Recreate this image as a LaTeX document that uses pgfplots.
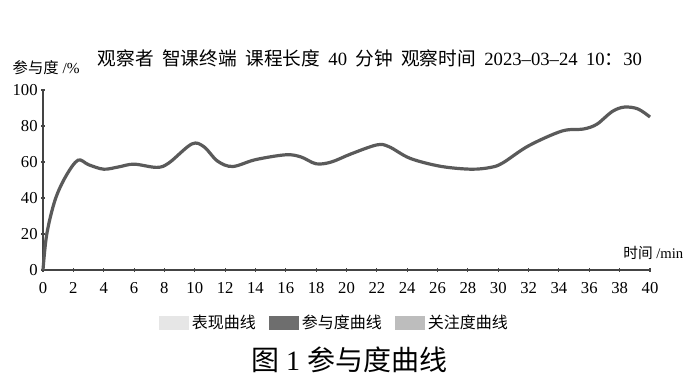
\documentclass[border=0pt]{standalone}
\usepackage{pgfplots}
\pgfplotsset{compat=1.18}
\usepackage{fontspec}
\setmainfont{Liberation Serif}
\newfontfamily\cjk{Noto Sans CJK SC}
\definecolor{curve}{HTML}{5A5A5A}
\definecolor{axisc}{HTML}{444444}
\definecolor{lg1}{HTML}{E6E6E6}
\definecolor{lg2}{HTML}{6E6E6E}
\definecolor{lg3}{HTML}{BDBDBD}
\newcommand{\tsp}{\hspace{0.45em}}
\begin{document}
\begin{tikzpicture}[x=0.75pt,y=0.75pt]
\path[use as bounding box] (0,0) rectangle (700,385);
\begin{axis}[
  at={(32.25pt,86.25pt)}, anchor=origin,
  scale only axis, width=455.25pt, height=135pt,
  xmin=0, xmax=40, ymin=0, ymax=100,
  axis x line=bottom, axis y line=left,
  axis line style={axisc, line width=1.4pt, -},
  xtick={0,2,...,40}, ytick={0,20,...,100},
  tick style={axisc, line width=0.8pt},
  major tick length=3pt,
  tick align=center,
  /pgf/number format/assume math mode=true,
  ticklabel style={font=\fontsize{12.5}{13}\selectfont, text=black},
  xticklabel style={yshift=-4pt},
  yticklabel style={xshift=1pt},
  clip=false,
  legend style={at={(rel axis cs:0.481,-0.294)}, anchor=center, draw=none, fill=none,
    legend columns=3, font=\fontsize{12}{13}\selectfont\cjk,
    /tikz/every even column/.append style={column sep=8pt}},
  legend cell align=left,
  legend image code/.code={\fill[#1] (0cm,-0.175cm) rectangle (0.79cm,0.175cm);},
]
\addplot[curve, line width=2.4pt, smooth, tension=0.55, forget plot] coordinates {
(0,0) (0.25,20) (0.8,39) (1.5,52) (2.3,61) (3,58.5) (4,56) (5,57.3) (6,58.8) (7.5,57)
(8.3,59.5) (9.8,70) (10.6,68.5) (11.5,60.5) (12.5,57.5) (14,61.3) (16,64) (17,62.8)
(18,59) (19,60) (20.3,64.5) (22,69.5) (22.8,68.5) (24.2,62) (26.2,57.6) (28.2,56)
(29.5,57) (30.3,59.5) (32,69) (34.2,77.2) (35.6,78.3) (36.5,81) (37.5,88) (38.3,90.5)
(39.2,89.5) (40,85)
};
\addlegendimage{draw=none, fill=lg1}
\addlegendentry{表现曲线}
\addlegendimage{draw=none, fill=lg2}
\addlegendentry{参与度曲线}
\addlegendimage{draw=none, fill=lg3}
\addlegendentry{关注度曲线}
\end{axis}
\node[anchor=west, font=\fontsize{11.5}{12}\selectfont] at (8,317) {{\cjk 参与度} /\%};
\node[anchor=east, font=\fontsize{11}{12}\selectfont] at (688,132) {{\cjk 时间} /min};
\node[font=\fontsize{14}{15}\selectfont] at (370,327) {{\cjk 观察者}\tsp{\cjk 智课终端}\tsp{\cjk 课程长度}\tsp 40\tsp{\cjk 分钟}\tsp{\cjk 观察时间}\tsp 2023--03--24\tsp 10{\cjk ：}30};
\node[font=\fontsize{21}{23}\selectfont] at (349,25) {{\cjk 图} 1 {\cjk 参与度曲线}};
\end{tikzpicture}
\end{document}
